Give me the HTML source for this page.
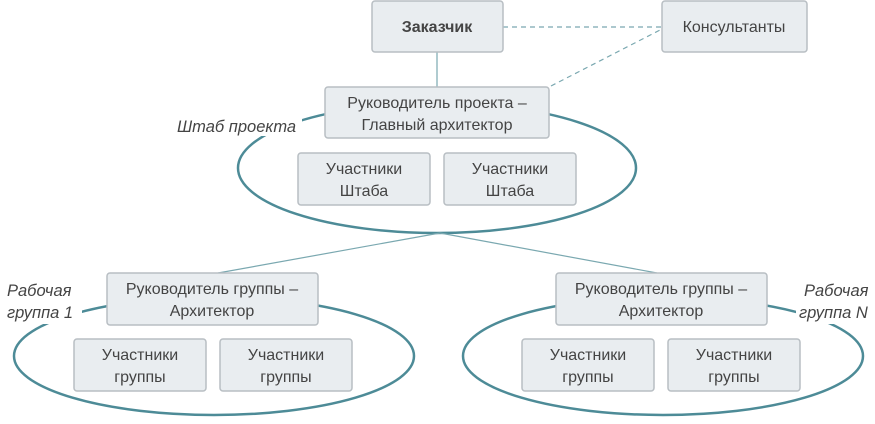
<!DOCTYPE html>
<html><head><meta charset="utf-8"><style>
body{margin:0;background:#fff}
svg text{font-family:"Liberation Sans",sans-serif;fill:#444}
</style></head><body>
<svg width="875" height="419" viewBox="0 0 875 419">
<g stroke="#4d8b97" stroke-width="2.5" fill="none">
<ellipse cx="437" cy="168" rx="199" ry="65"/>
<ellipse cx="214" cy="356" rx="200" ry="59"/>
<ellipse cx="663" cy="356" rx="200" ry="59"/>
</g>
<g stroke="#7aa8b0" stroke-width="1.2">
<line x1="437" y1="52" x2="437" y2="87"/>
<line x1="440" y1="233" x2="218" y2="273"/>
<line x1="440" y1="233" x2="657" y2="273"/>
<line x1="503" y1="27" x2="662" y2="27" stroke-dasharray="5,4"/>
<line x1="551" y1="86" x2="662" y2="29" stroke-dasharray="5,4"/>
</g>
<g fill="#fff">
<rect x="174" y="110" width="128" height="26"/>
<rect x="2" y="274" width="80" height="50"/>
<rect x="796" y="274" width="79" height="50"/>
</g>
<g fill="#e9edf0" stroke="#b8bec3" stroke-width="1.5">
<rect x="372" y="1" width="131" height="51" rx="3"/>
<rect x="662" y="1" width="145" height="51" rx="3"/>
<rect x="325" y="87" width="224" height="51" rx="3"/>
<rect x="298" y="153" width="132" height="52" rx="3"/>
<rect x="444" y="153" width="132" height="52" rx="3"/>
<rect x="107" y="273" width="211" height="52" rx="3"/>
<rect x="74" y="339" width="132" height="52" rx="3"/>
<rect x="220" y="339" width="132" height="52" rx="3"/>
<rect x="556" y="273" width="211" height="52" rx="3"/>
<rect x="522" y="339" width="132" height="52" rx="3"/>
<rect x="668" y="339" width="132" height="52" rx="3"/>
</g>
<g font-size="16" text-anchor="middle">
<text x="437" y="32" font-weight="bold">Заказчик</text>
<text x="734" y="32">Консультанты</text>
<text x="437" y="108">Руководитель проекта –</text>
<text x="437" y="130">Главный архитектор</text>
<text x="364" y="174">Участники</text><text x="364" y="196">Штаба</text>
<text x="510" y="174">Участники</text><text x="510" y="196">Штаба</text>
<text x="212" y="294">Руководитель группы –</text>
<text x="212" y="316">Архитектор</text>
<text x="140" y="360">Участники</text><text x="140" y="382">группы</text>
<text x="286" y="360">Участники</text><text x="286" y="382">группы</text>
<text x="661" y="294">Руководитель группы –</text>
<text x="661" y="316">Архитектор</text>
<text x="588" y="360">Участники</text><text x="588" y="382">группы</text>
<text x="734" y="360">Участники</text><text x="734" y="382">группы</text>
</g>
<g font-size="16.5" font-style="italic">
<text x="177" y="132">Штаб проекта</text>
<text x="7" y="296">Рабочая</text>
<text x="7" y="318">группа 1</text>
<text x="804" y="296">Рабочая</text>
<text x="799" y="318">группа N</text>
</g>
</svg>
</body></html>
